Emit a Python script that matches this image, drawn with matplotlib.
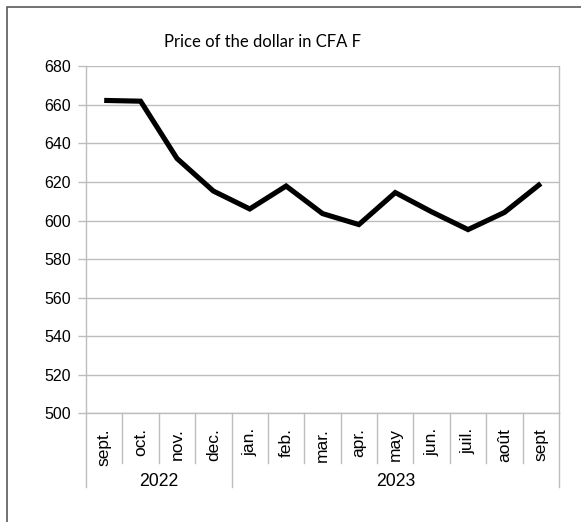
import matplotlib
matplotlib.use("Agg")
import matplotlib.pyplot as plt
from matplotlib.patches import Rectangle

months = ["sept.", "oct.", "nov.", "dec.", "jan.", "feb.", "mar.", "apr.",
          "may", "jun.", "juil.", "août", "sept"]
years = ["2022", "2023"]
year_counts = [4, 9]
values = [662.3, 661.9, 632.2, 615.3, 606.0, 617.9, 603.6, 597.9,
          614.5, 604.5, 595.3, 604.2, 619.2]
yticks = [500, 520, 540, 560, 580, 600, 620, 640, 660, 680]
title = "Price of the dollar in CFA F"

W, H = 581, 522
fig = plt.figure(figsize=(W / 100, H / 100), dpi=100)
fig.patch.set_facecolor("white")

# outer chart border (top and left visible, others cut off)
fig.add_artist(Rectangle((7.3 / W, -0.2), 1.5, 1.2 - 7.3 / H,
                         transform=fig.transFigure, fill=False,
                         edgecolor="#5a5a5a", linewidth=1.2))

left, right = 86 / W, 559 / W
top, bottom = 1 - 66.3 / H, 1 - 413.3 / H
ax = fig.add_axes([left, bottom, right - left, top - bottom])

grid_c = "#bdbdbd"
x = list(range(len(months)))
ax.plot(x, values, color="black", linewidth=3.7, solid_joinstyle="miter",
        solid_capstyle="butt", zorder=3)

ax.set_xlim(-0.5, len(months) - 0.5)
ax.set_ylim(yticks[0], yticks[-1])
ax.set_yticks(yticks)
ax.set_yticklabels([str(v) for v in yticks], fontsize=11.5,
                   family="Liberation Sans")
ax.yaxis.grid(True, color=grid_c, linewidth=1.0)
ax.set_axisbelow(True)
ax.tick_params(axis="y", length=6, width=1.0, color=grid_c, pad=5)

ax.set_xticks(x)
ax.set_xticklabels(months, rotation=90, fontsize=12.5, family="Liberation Sans",
                   ha="center", va="top")
ax.tick_params(axis="x", length=0, pad=10.5)

for s in ax.spines.values():
    s.set_color(grid_c)
    s.set_linewidth(1.0)
ax.spines["top"].set_visible(False)

trans = ax.get_xaxis_transform()
# separators between categories
n = len(months)
bounds = [0]
for c in year_counts:
    bounds.append(bounds[-1] + c)
for k in range(n + 1):
    long_sep = k in bounds
    ax.plot([k - 0.5, k - 0.5], [0, -0.2115 if long_sep else -0.1424],
            transform=trans, color=grid_c, linewidth=1.0, clip_on=False)

# year labels
for i, yr in enumerate(years):
    c = (bounds[i] + bounds[i + 1] - 1) / 2
    ax.text(c, -0.197, yr, transform=trans, ha="center", va="center",
            fontsize=12.7, family="Liberation Sans")

fig.text(262 / W, 1 - 41.7 / H, title, ha="center", va="center",
         fontsize=12, family="Lato")

fig.savefig("out.png", dpi=100, facecolor="white")
